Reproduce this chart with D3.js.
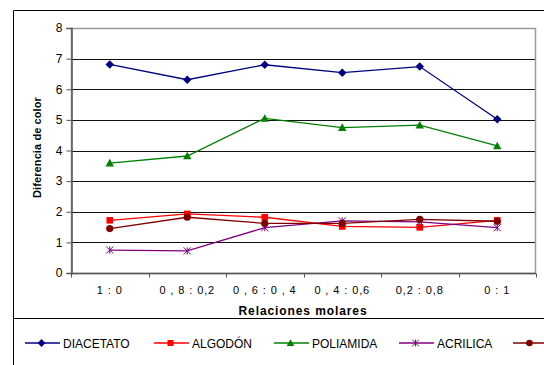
<!DOCTYPE html>
<html><head><meta charset="utf-8">
<script src="https://cdn.jsdelivr.net/npm/d3@7"></script>
<style>body{margin:0;background:#fff}svg{display:block;font-family:"Liberation Sans",Arial,sans-serif}</style>
</head><body>
<script>
const categories = ["1 : 0", "0 , 8 : 0,2", "0 , 6 : 0 , 4", "0 , 4 : 0,6", "0,2 : 0,8", "0 : 1"];
const yTicks = [0, 1, 2, 3, 4, 5, 6, 7, 8];
const seriesNames = ["DIACETATO", "ALGODÓN", "POLIAMIDA", "ACRILICA", ""];
const diacetato = [6.81, 6.31, 6.8, 6.54, 6.74, 5.02];
const algodon = [1.72, 1.93, 1.82, 1.52, 1.49, 1.72];
const poliamida = [3.59, 3.82, 5.05, 4.75, 4.83, 4.15];
const acrilica = [0.75, 0.72, 1.48, 1.7, 1.67, 1.48];
const serie5 = [1.45, 1.82, 1.62, 1.62, 1.75, 1.69];
const seriesValues = [diacetato, algodon, poliamida, acrilica, serie5];
const colors = ["#000080", "#FF0000", "#008000", "#800080", "#800000"];
const markers = ["diamond", "square", "triangle", "asterisk", "circle"];

const W = 544, H = 365;
const svg = d3.select("body").append("svg").attr("width", W).attr("height", H);
const L = 71, R = 536, T = 28, B = 273;
const x = d3.scaleBand().domain(categories).range([L, R]);
const y = d3.scaleLinear().domain([0, 8]).range([B, T]);
const cx = c => x(c) + x.bandwidth() / 2;

// outer chart border
svg.append("path").attr("d", `M13.5,${H} V10.5 H${W}`).attr("fill", "none").attr("stroke", "#000").attr("stroke-width", 1);
// legend box
svg.append("path").attr("d", `M13.5,${H} V318.5 H${W}`).attr("fill", "none").attr("stroke", "#000").attr("stroke-width", 1);

// gridlines
svg.append("g").selectAll("line").data(yTicks.filter(t => t > 0 && t < 8)).join("line")
  .attr("x1", L).attr("x2", R).attr("y1", d => Math.round(y(d)) + 0.5).attr("y2", d => Math.round(y(d)) + 0.5)
  .attr("stroke", "#111").attr("stroke-width", 1);
// plot border (gray)
svg.append("rect").attr("x", L + 0.5).attr("y", T + 0.5).attr("width", R - L - 1).attr("height", B - T)
  .attr("fill", "none").attr("stroke", "#9a9a9a").attr("stroke-width", 1.5);

// Y axis
const yAxis = svg.append("g").attr("transform", `translate(${L + 0.5},0)`)
  .call(d3.axisLeft(y).tickValues(yTicks).tickSize(5).tickPadding(4).tickFormat(d3.format("d")));
yAxis.select(".domain").attr("stroke", "#555").attr("stroke-width", 1.5);
yAxis.selectAll(".tick line").attr("stroke", "#555");
yAxis.selectAll("text").attr("font-size", 12).attr("fill", "#000").attr("font-family", "Liberation Sans, Arial");

// X axis
const xAxis = svg.append("g").attr("transform", `translate(0,${B + 0.5})`)
  .call(d3.axisBottom(x).tickSize(0).tickPadding(13));
xAxis.select(".domain").attr("stroke", "#555").attr("stroke-width", 1.5).attr("d", `M${L},0H${R}`);
xAxis.selectAll("text").attr("font-size", 11).attr("fill", "#000").attr("font-family", "Liberation Sans, Arial")
  .attr("letter-spacing", "0.9px");
const edges = categories.map(c => x(c)).concat([x.range()[1]]);
xAxis.selectAll(".edge").data(edges).join("line").attr("class", "edge")
  .attr("x1", d => Math.round(d) + 0.5).attr("x2", d => Math.round(d) + 0.5).attr("y1", 0).attr("y2", 4)
  .attr("stroke", "#555");

// axis titles
svg.append("text").attr("transform", `translate(41,${(T + B) / 2 - 3}) rotate(-90)`)
  .attr("text-anchor", "middle").attr("font-size", 11).attr("font-weight", "bold").attr("letter-spacing", "0.1px").text("Diferencia de color");
svg.append("text").attr("x", 303).attr("y", 315).attr("text-anchor", "middle")
  .attr("font-size", 12).attr("font-weight", "bold").attr("letter-spacing", "0.9px").text("Relaciones molares");

function drawMarker(g, type, color, s) {
  if (type === "diamond") g.append("rect").attr("x", -s / 2).attr("y", -s / 2).attr("width", s).attr("height", s)
    .attr("transform", "rotate(45)").attr("fill", color);
  else if (type === "square") g.append("rect").attr("x", -s * 0.55).attr("y", -s * 0.55).attr("width", s * 1.1).attr("height", s * 1.1).attr("fill", color);
  else if (type === "triangle") { const r = s * 0.7; g.append("path").attr("d", `M0,${-r}L${r},${r * 0.8}L${-r},${r * 0.8}Z`).attr("fill", color); }
  else if (type === "circle") g.append("circle").attr("r", s * 0.6).attr("fill", color);
  else if (type === "asterisk") {
    const r = s * 0.6;
    g.append("path").attr("d", `M${-r},${-r}L${r},${r}M${-r},${r}L${r},${-r}M0,${-r}V${r}`)
      .attr("stroke", color).attr("stroke-width", 1).attr("fill", "none");
  }
}

const line = d3.line().x((d, i) => cx(categories[i])).y(d => y(d));
seriesValues.forEach((vals, k) => {
  svg.append("path").datum(vals).attr("d", line).attr("fill", "none").attr("stroke", colors[k]).attr("stroke-width", 1.3);
});
seriesValues.forEach((vals, k) => {
  vals.forEach((v, i) => {
    const g = svg.append("g").attr("transform", `translate(${cx(categories[i])},${y(v)})`);
    drawMarker(g, markers[k], colors[k], 6);
  });
});

// legend
const legX = [25, 154, 274, 399, 513];
const legY = 343;
seriesNames.forEach((n, k) => {
  const g = svg.append("g").attr("transform", `translate(${legX[k]},${legY})`);
  g.append("line").attr("x1", 0).attr("x2", 35).attr("y1", 0).attr("y2", 0).attr("stroke", colors[k]).attr("stroke-width", 1.3);
  const mg = g.append("g").attr("transform", "translate(16.5,0)");
  drawMarker(mg, markers[k], colors[k], 5.5);
  if (n) g.append("text").attr("x", 38).attr("y", 4.5).attr("font-size", 12).attr("letter-spacing", "0px").text(n);
});
</script>
</body></html>
